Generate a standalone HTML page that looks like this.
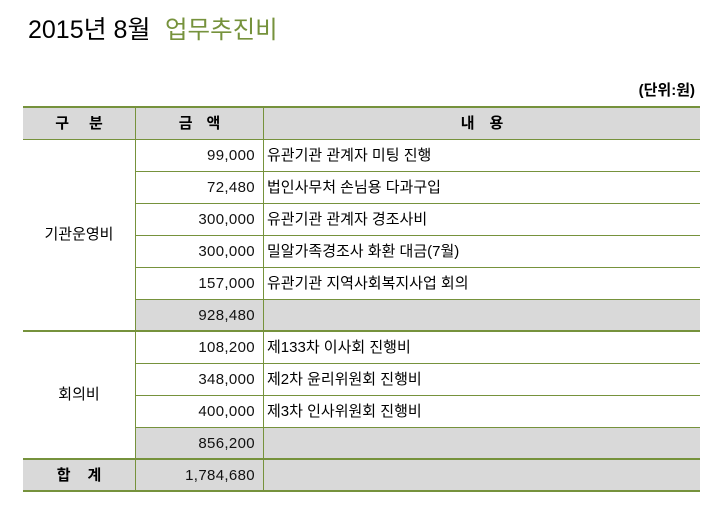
<!DOCTYPE html>
<html><head><meta charset="utf-8">
<style>
html,body{margin:0;padding:0;background:#fff;}
body{width:715px;height:511px;position:relative;overflow:hidden;font-family:"Liberation Sans","Noto Sans CJK KR",sans-serif;color:#000;}
.a{position:absolute;}
.g{position:absolute;background:#76923C;}
.gr{position:absolute;background:#D9D9D9;}
.t{position:absolute;height:32px;line-height:32px;font-size:14px;white-space:nowrap;}
.amt{left:136px;width:119px;text-align:right;letter-spacing:0.35px;font-size:15px;color:#111;}
.txt{left:267px;width:430px;text-align:left;font-size:15px;}
.h{position:absolute;height:31px;line-height:31px;font-size:15px;font-weight:bold;display:flex;justify-content:center;white-space:nowrap;}
</style></head><body>
<div class="a" style="left:28px;top:18px;font-size:25px;line-height:25px;white-space:nowrap;">2015년 8월</div>
<div class="a" style="left:165px;top:18px;font-size:24.5px;line-height:25px;color:#76923C;white-space:nowrap;">업무추진비</div>
<div class="t" style="right:20px;top:75px;font-weight:bold;font-size:15px;">(단위:원)</div>

<!-- gray backgrounds -->
<div class="gr" style="left:23px;top:108px;width:677px;height:31px;"></div>
<div class="gr" style="left:136px;top:300px;width:564px;height:30px;"></div>
<div class="gr" style="left:136px;top:428px;width:564px;height:30px;"></div>
<div class="gr" style="left:23px;top:460px;width:677px;height:30px;"></div>

<!-- horizontal lines -->
<div class="g" style="left:23px;top:106px;width:677px;height:2px;"></div>
<div class="g" style="left:23px;top:139px;width:677px;height:1px;"></div>
<div class="g" style="left:135px;top:171px;width:565px;height:1px;"></div>
<div class="g" style="left:135px;top:203px;width:565px;height:1px;"></div>
<div class="g" style="left:135px;top:235px;width:565px;height:1px;"></div>
<div class="g" style="left:135px;top:267px;width:565px;height:1px;"></div>
<div class="g" style="left:135px;top:299px;width:565px;height:1px;"></div>
<div class="g" style="left:23px;top:330px;width:677px;height:2px;"></div>
<div class="g" style="left:135px;top:363px;width:565px;height:1px;"></div>
<div class="g" style="left:135px;top:395px;width:565px;height:1px;"></div>
<div class="g" style="left:135px;top:427px;width:565px;height:1px;"></div>
<div class="g" style="left:23px;top:458px;width:677px;height:2px;"></div>
<div class="g" style="left:23px;top:490px;width:677px;height:2px;"></div>
<!-- vertical lines -->
<div class="g" style="left:135px;top:106px;width:1px;height:386px;"></div>
<div class="g" style="left:263px;top:106px;width:1px;height:386px;"></div>

<!-- header -->
<div class="h" style="left:23px;width:112px;top:108px;"><span>구</span><span style="margin-left:20px;">분</span></div>
<div class="h" style="left:136px;width:127px;top:108px;"><span>금</span><span style="margin-left:14px;">액</span></div>
<div class="h" style="left:264px;width:436px;top:108px;"><span>내</span><span style="margin-left:15px;">용</span></div>

<!-- group labels -->
<div class="t" style="left:23px;width:112px;top:219px;text-align:center;font-size:15px;">기관운영비</div>
<div class="t" style="left:23px;width:112px;top:379px;text-align:center;font-size:15px;">회의비</div>

<!-- rows -->
<div class="t amt" style="top:140px;">99,000</div>
<div class="t txt" style="top:140px;">유관기관 관계자 미팅 진행</div>
<div class="t amt" style="top:172px;">72,480</div>
<div class="t txt" style="top:172px;">법인사무처 손님용 다과구입</div>
<div class="t amt" style="top:204px;">300,000</div>
<div class="t txt" style="top:204px;">유관기관 관계자 경조사비</div>
<div class="t amt" style="top:236px;">300,000</div>
<div class="t txt" style="top:236px;">밀알가족경조사 화환 대금(7월)</div>
<div class="t amt" style="top:268px;">157,000</div>
<div class="t txt" style="top:268px;">유관기관 지역사회복지사업 회의</div>
<div class="t amt" style="top:300px;">928,480</div>

<div class="t amt" style="top:332px;">108,200</div>
<div class="t txt" style="top:332px;">제133차 이사회 진행비</div>
<div class="t amt" style="top:364px;">348,000</div>
<div class="t txt" style="top:364px;">제2차 윤리위원회 진행비</div>
<div class="t amt" style="top:396px;">400,000</div>
<div class="t txt" style="top:396px;">제3차 인사위원회 진행비</div>
<div class="t amt" style="top:428px;">856,200</div>

<!-- total -->
<div class="h" style="left:23px;width:112px;top:460px;height:31px;line-height:31px;"><span>합</span><span style="margin-left:17px;">계</span></div>
<div class="t amt" style="top:460px;">1,784,680</div>
</body></html>
